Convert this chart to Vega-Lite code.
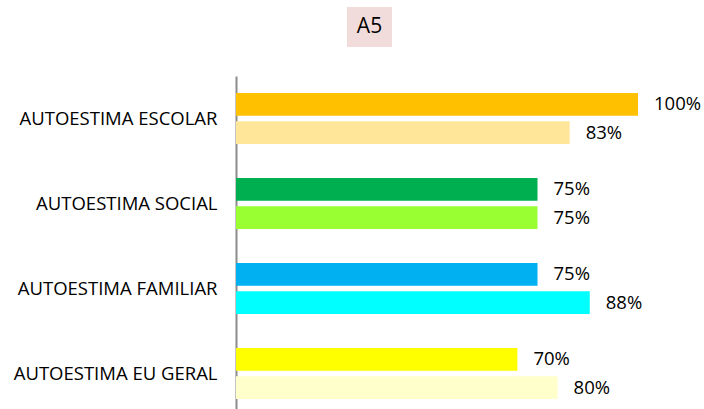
{
  "$schema": "https://vega.github.io/schema/vega-lite/v6.json",
  "padding": {"left": 13, "top": 7, "right": 0, "bottom": 0},
  "background": "white",
  "config": {"font": "Open Sans", "view": {"stroke": null}},
  "columns": 1,
  "align": "none",
  "spacing": 29,
  "concat": [
    {
      "spacing": 0,
      "hconcat": [
        {
          "width": 111,
          "height": 40,
          "data": {"values": [{"vazio": ""}]},
          "mark": {"type": "text"},
          "encoding": {"text": {"field": "vazio"}}
        },
        {
          "width": 45,
          "height": 40,
          "view": {"fill": "#F2DCDB", "stroke": null},
          "data": {"values": [{"titulo": "A5"}]},
          "mark": {"type": "text", "fontSize": 21, "color": "#000000", "font": "Open Sans"},
          "encoding": {"text": {"field": "titulo"}}
        }
      ]
    },
    {
      "width": 402,
      "height": 340,
      "data": {
        "values": [
          {"categoria": "AUTOESTIMA ESCOLAR", "serie": "1", "grupo": "ESCOLAR-1", "valor": 1.00},
          {"categoria": "AUTOESTIMA ESCOLAR", "serie": "2", "grupo": "ESCOLAR-2", "valor": 0.83},
          {"categoria": "AUTOESTIMA SOCIAL", "serie": "1", "grupo": "SOCIAL-1", "valor": 0.75},
          {"categoria": "AUTOESTIMA SOCIAL", "serie": "2", "grupo": "SOCIAL-2", "valor": 0.75},
          {"categoria": "AUTOESTIMA FAMILIAR", "serie": "1", "grupo": "FAMILIAR-1", "valor": 0.75},
          {"categoria": "AUTOESTIMA FAMILIAR", "serie": "2", "grupo": "FAMILIAR-2", "valor": 0.88},
          {"categoria": "AUTOESTIMA EU GERAL", "serie": "1", "grupo": "EU GERAL-1", "valor": 0.70},
          {"categoria": "AUTOESTIMA EU GERAL", "serie": "2", "grupo": "EU GERAL-2", "valor": 0.80}
        ]
      },
      "encoding": {
        "y": {
          "field": "categoria",
          "type": "nominal",
          "sort": ["AUTOESTIMA ESCOLAR", "AUTOESTIMA SOCIAL", "AUTOESTIMA FAMILIAR", "AUTOESTIMA EU GERAL"],
          "scale": {"paddingInner": 0.4, "paddingOuter": 0.2},
          "axis": {
            "title": null,
            "ticks": false,
            "domainColor": "#8C8C8C",
            "domainWidth": 2,
            "labelFontSize": 18.5,
            "labelLimit": 400,
            "labelColor": "#000000",
            "labelPadding": 19,
            "labelFont": "Open Sans"
          }
        },
        "yOffset": {"field": "serie", "type": "nominal", "scale": {"paddingInner": 0.19, "paddingOuter": 0}},
        "x": {"field": "valor", "type": "quantitative", "scale": {"domain": [0, 1]}, "axis": null}
      },
      "layer": [
        {
          "mark": {"type": "bar"},
          "encoding": {
            "color": {
              "field": "grupo",
              "type": "nominal",
              "legend": null,
              "scale": {
                "domain": ["ESCOLAR-1", "ESCOLAR-2", "SOCIAL-1", "SOCIAL-2", "FAMILIAR-1", "FAMILIAR-2", "EU GERAL-1", "EU GERAL-2"],
                "range": ["#FFC000", "#FFE699", "#00B050", "#99FF33", "#00B0F0", "#00FFFF", "#FFFF00", "#FFFFCC"]
              }
            }
          }
        },
        {
          "mark": {"type": "text", "align": "left", "dx": 16, "fontSize": 18.5, "color": "#000000", "font": "Open Sans"},
          "encoding": {"text": {"field": "valor", "type": "quantitative", "format": ".0%"}}
        }
      ]
    }
  ]
}
